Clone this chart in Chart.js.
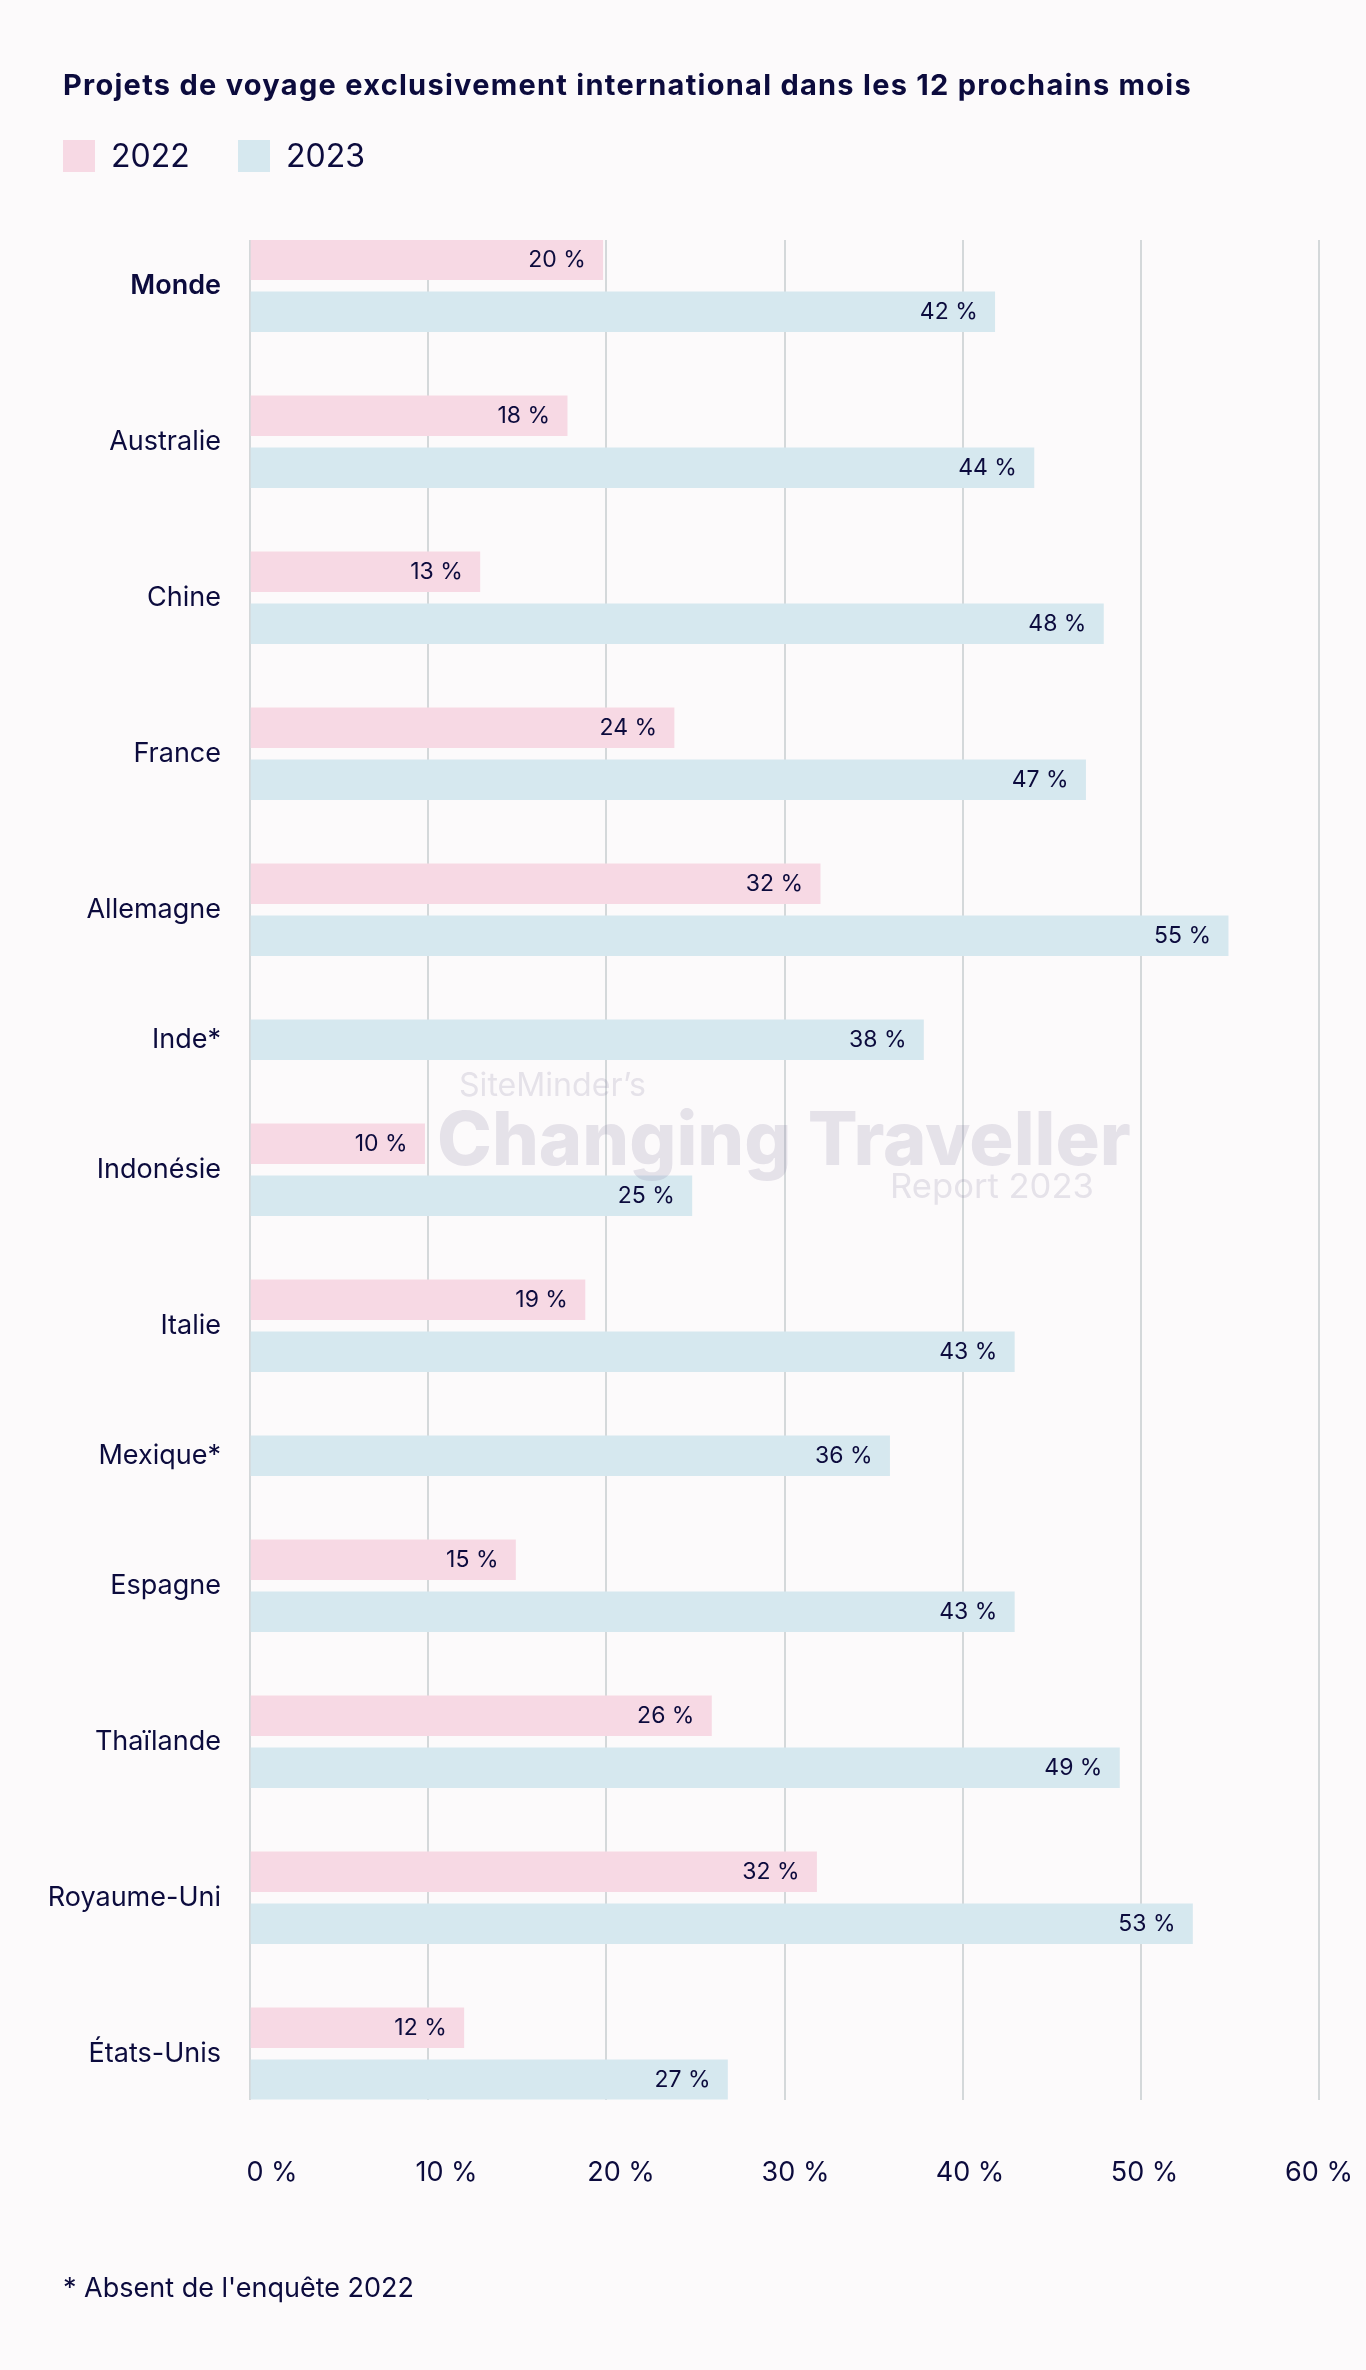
<!DOCTYPE html>
<html><head><meta charset="utf-8">
<script src="https://cdn.jsdelivr.net/npm/chart.js@4/dist/chart.umd.min.js"></script>
<style>
html,body{margin:0;padding:0;background:#fcfafb;}
body{width:1366px;height:2370px;position:relative;overflow:hidden;font-family:Inter,"Noto Sans",sans-serif;color:#0c0b3d;}
#c{position:absolute;left:0;top:0;}
#title{position:absolute;left:63px;top:68px;font-size:29px;font-weight:700;line-height:34px;white-space:nowrap;}
.lg{position:absolute;top:140px;width:32px;height:32px}
.lt{position:absolute;top:137px;font-size:32px;line-height:38px}
#note{position:absolute;left:63px;top:2271px;font-size:27px;line-height:34px;white-space:nowrap}
</style></head><body>
<canvas id="c" width="1366" height="2370"></canvas>
<div id="title">Projets de voyage exclusivement international dans les 12 prochains mois</div>
<div class="lg" style="left:63px;background:#f7d9e4"></div><div class="lt" style="left:111px">2022</div>
<div class="lg" style="left:238px;background:#d6e8ef"></div><div class="lt" style="left:286px">2023</div>
<div id="note">* Absent de l'enquête 2022</div>
<script>
const categories = ['Monde','Australie','Chine','France','Allemagne','Inde*','Indonésie','Italie','Mexique*','Espagne','Thaïlande','Royaume-Uni','États-Unis'];
const values2022 = [19.8,17.8,12.9,23.8,32.0,null,9.8,18.8,null,14.9,25.9,31.8,12.0];
const values2023 = [41.8,44.0,47.9,46.9,54.9,37.8,24.8,42.9,35.9,42.9,48.8,52.9,26.8];
const xTicks = [0,10,20,30,40,50,60];
const seriesLabels = ['2022','2023'];

const NAVY = '#0c0b3d';
const FAMILY = 'Inter, "Noto Sans", sans-serif';

// fit title width to reference width
(function(){
  const t = document.getElementById('title');
  const w = t.getBoundingClientRect().width;
  const n = t.textContent.length;
  t.style.letterSpacing = ((1129 - w) / n).toFixed(3) + 'px';
})();

// slot layout: a bar per slot, one empty slot between countries
const pts2022 = [], pts2023 = [], labelPos = [];
let slot = 0;
categories.forEach((c, i) => {
  if (values2022[i] != null) {
    pts2022.push({x: values2022[i], y: slot});
    pts2023.push({x: values2023[i], y: slot + 1});
    labelPos.push(slot + 0.5);
    slot += 3;
  } else {
    pts2023.push({x: values2023[i], y: slot});
    labelPos.push(slot);
    slot += 2;
  }
});
const lastSlot = slot - 2;
const HALF = 0.38;

const valueLabels = {
  id: 'valueLabels',
  afterDatasetsDraw(chart) {
    const ctx = chart.ctx;
    // watermark
    ctx.save();
    ctx.fillStyle = 'rgba(140,130,165,0.2)';
    ctx.textBaseline = 'alphabetic';
    ctx.textAlign = 'left';
    const fit = (txt, weight, size, width) => {
      ctx.font = weight + ' ' + size + 'px ' + FAMILY;
      const w = ctx.measureText(txt).width;
      ctx.font = weight + ' ' + (size * width / w).toFixed(2) + 'px ' + FAMILY;
    };
    fit('SiteMinder\u2019s', '400', 31, 187); ctx.fillText('SiteMinder\u2019s', 459, 1096);
    fit('Changing Traveller', '800', 77, 694); ctx.fillText('Changing Traveller', 437, 1165);
    fit('Report 2023', '400', 31, 204); ctx.fillText('Report 2023', 890, 1198);
    ctx.restore();

    ctx.save();
    ctx.font = '23px ' + FAMILY;
    ctx.fillStyle = NAVY;
    ctx.textAlign = 'right';
    ctx.textBaseline = 'middle';
    chart.data.datasets.forEach((ds, di) => {
      const meta = chart.getDatasetMeta(di);
      meta.data.forEach((el, j) => {
        ctx.fillText(Math.round(ds.data[j].x) + ' %', el.x - 17, el.y);
      });
    });
    ctx.restore();
  }
};

new Chart(document.getElementById('c'), {
  type: 'bar',
  data: {
    datasets: [
      {label: seriesLabels[0], data: pts2022, backgroundColor: '#f7d9e4', barThickness: 40, grouped: false, xAxisID: 'x', yAxisID: 'y'},
      {label: seriesLabels[1], data: pts2023, backgroundColor: '#d6e8ef', barThickness: 40, grouped: false, xAxisID: 'x', yAxisID: 'y'}
    ]
  },
  options: {
    indexAxis: 'y',
    responsive: false,
    animation: false,
    layout: {padding: {top: 240, left: 0, right: 47, bottom: 170.5}},
    plugins: {legend: {display: false}, tooltip: {enabled: false}},
    scales: {
      x: {
        type: 'linear', min: 0, max: 60, position: 'bottom', offset: false,
        ticks: {display: false, stepSize: 10},
        grid: {color: '#d4d8da', lineWidth: 2, drawTicks: false},
        border: {display: false},
        afterFit(s) { s.height = 0; s.paddingLeft = 0; s.paddingRight = 0; }
      },
      xl: {
        type: 'linear', position: 'bottom', min: -1.26, max: 60, offset: false,
        grid: {display: false, drawTicks: false},
        border: {display: false},
        afterBuildTicks(s) { s.ticks = xTicks.map(v => ({value: v})); },
        ticks: {padding: 57, maxRotation: 0, autoSkip: false, color: NAVY, font: {size: 27, family: FAMILY}, callback: v => v + ' %'},
        afterFit(s) { s.height = 100; s.paddingLeft = 0; s.paddingRight = 0; }
      },
      y: {
        type: 'linear', reverse: true, min: -HALF, max: lastSlot + HALF, position: 'left', offset: false,
        grid: {display: false, drawTicks: false},
        border: {display: false},
        afterBuildTicks(s) { s.ticks = labelPos.map(v => ({value: v})); },
        ticks: {
          padding: 29, autoSkip: false, color: NAVY,
          font: ctx => ({size: 27, family: FAMILY, weight: ctx.index === 0 ? '600' : '400'}),
          callback: (v, i) => categories[i]
        },
        afterFit(s) { s.width = 250; s.paddingTop = 0; s.paddingBottom = 0; }
      }
    }
  },
  plugins: [valueLabels]
});
</script>
</body></html>
